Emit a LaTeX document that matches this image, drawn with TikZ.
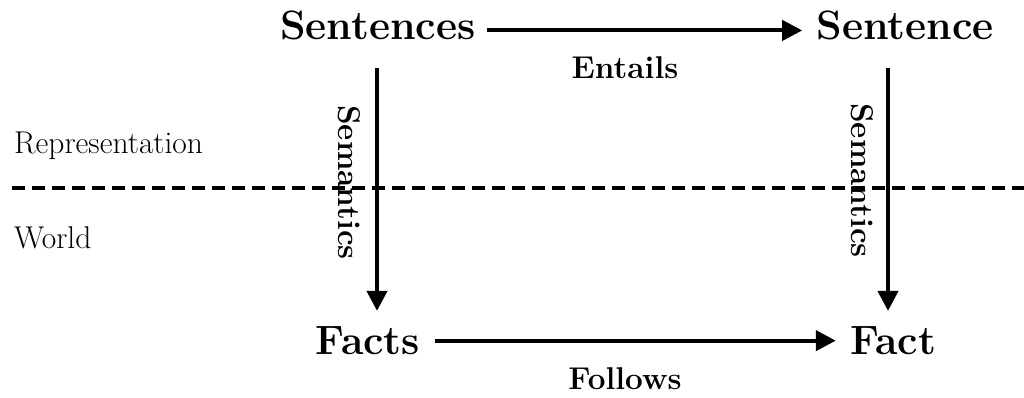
\documentclass[tikz,border=0pt]{standalone}
\usetikzlibrary{arrows.meta,calc}
\begin{document}
\begin{tikzpicture}[x=1pt,y=-1pt,
  big/.style={font=\fontsize{41}{43}\selectfont\bfseries, inner sep=0pt, anchor=base},
  lab/.style={font=\fontsize{31.5}{33}\selectfont\bfseries, inner sep=0pt, anchor=base},
  side/.style={font=\fontsize{31.5}{33}\selectfont, inner sep=0pt, anchor=base west},
  arr/.style={line width=4pt, -{Triangle[length=20pt,width=20pt]}},
  sep/.style={line width=4pt, dash pattern=on 13pt off 7pt}]
\useasboundingbox (0,0) rectangle (1024,397);
% main terms
\node[big] (s1) at (378,39) {Sentences};
\node[big] (s2) at (905,39) {Sentence};
\node[big] (f1) at (368,354) {Facts};
\node[big] (f2) at (893,354) {Fact};
% relation labels
\node[lab] (ent) at (625,78) {Entails};
\node[lab] (fol) at (625,389) {Follows};
\node[lab, rotate=-90, anchor=base west] (sem1) at (338,105) {Semantics};
\node[lab, rotate=-90, anchor=base west] (sem2) at (851,103) {Semantics};
% level names
\node[side] (rep) at (14,153) {Representation};
\node[side] (wor) at (14,248) {World};
% boundary between representation and world
\coordinate (dl) at (12,188);
\coordinate (dr) at (1024,188);
\draw[sep] (dl) -- (dr);
% arrows
\draw[arr] ($(s1.east)+(11,5.5)$) -- ($(s2.west)+(-14,5.5)$);
\draw[arr] ($(f1.east)+(15,0.5)$) -- ($(f2.west)+(-14,0.5)$);
\draw[arr] ($(s1.south)+(-1,28)$) -- ($(s1.south |- f1.north)+(-1,-15)$);
\draw[arr] ($(s2.south)+(-17,28)$) -- ($(s2.south |- f2.north)+(-17,-15)$);
\end{tikzpicture}
\end{document}
